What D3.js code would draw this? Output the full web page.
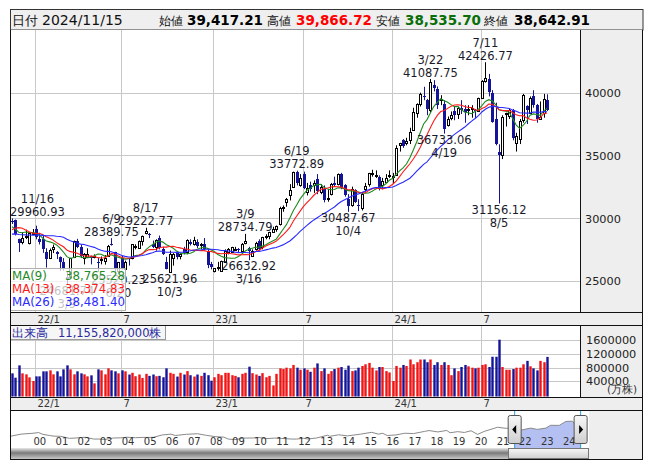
<!DOCTYPE html>
<html><head><meta charset="utf-8">
<script src="https://cdn.jsdelivr.net/npm/d3@7"></script>
<style>body{margin:0;background:#fff;} text{font-family:"DejaVu Sans",Verdana,sans-serif;}</style>
</head><body><svg id="c" width="653" height="470" xmlns="http://www.w3.org/2000/svg"></svg>
<script>
// ---------- DATA ----------
const dates = ["2021/11/19","2021/11/26","2021/12/03","2021/12/10","2021/12/17","2021/12/24","2021/12/30",
"2022/01/07","2022/01/14","2022/01/21","2022/01/28","2022/02/04","2022/02/10","2022/02/18","2022/02/25","2022/03/04","2022/03/11","2022/03/18","2022/03/25","2022/04/01","2022/04/08","2022/04/15","2022/04/22","2022/04/28","2022/05/06","2022/05/13","2022/05/20","2022/05/27","2022/06/03","2022/06/10","2022/06/17","2022/06/24","2022/07/01","2022/07/08","2022/07/15","2022/07/22","2022/07/29","2022/08/05","2022/08/12","2022/08/19","2022/08/26","2022/09/02","2022/09/09","2022/09/16","2022/09/22","2022/09/30","2022/10/07","2022/10/14","2022/10/21","2022/10/28","2022/11/04","2022/11/11","2022/11/18","2022/11/25","2022/12/02","2022/12/09","2022/12/16","2022/12/23","2022/12/30",
"2023/01/06","2023/01/13","2023/01/20","2023/01/27","2023/02/03","2023/02/10","2023/02/17","2023/02/24","2023/03/03","2023/03/10","2023/03/17","2023/03/24","2023/03/31","2023/04/07","2023/04/14","2023/04/21","2023/04/28","2023/05/02","2023/05/12","2023/05/19","2023/05/26","2023/06/02","2023/06/09","2023/06/16","2023/06/23","2023/06/30","2023/07/07","2023/07/14","2023/07/21","2023/07/28","2023/08/04","2023/08/10","2023/08/18","2023/08/25","2023/09/01","2023/09/08","2023/09/15","2023/09/22","2023/09/29","2023/10/06","2023/10/13","2023/10/20","2023/10/27","2023/11/02","2023/11/10","2023/11/17","2023/11/24","2023/12/01","2023/12/08","2023/12/15","2023/12/22","2023/12/29",
"2024/01/05","2024/01/12","2024/01/19","2024/01/26","2024/02/02","2024/02/09","2024/02/16","2024/02/22","2024/03/01","2024/03/08","2024/03/15","2024/03/22","2024/03/29","2024/04/05","2024/04/12","2024/04/19","2024/04/26","2024/05/02","2024/05/10","2024/05/17","2024/05/24","2024/05/31","2024/06/07","2024/06/14","2024/06/21","2024/06/28","2024/07/05","2024/07/12","2024/07/19","2024/07/26","2024/08/02","2024/08/09","2024/08/16","2024/08/23","2024/08/30","2024/09/06","2024/09/13","2024/09/20","2024/09/27","2024/10/04","2024/10/11","2024/10/18","2024/10/25","2024/11/01","2024/11/08","2024/11/15"];

const opens = [29800,29870,28300,28100,28500,28000,28700,
29098,28300,28300,27300,26800,27500,27300,26900,26500,25300,25300,26900,28200,27700,26800,26900,27000,26900,26500,26700,26600,27000,27900,27300,25800,26800,25900,26800,26800,27800,27600,28200,28800,28700,27900,27700,28400,27500,26500,25700,26800,27200,27000,27500,27300,28100,27900,28100,27900,27900,27300,26300,
25800,26000,25800,26500,27300,27300,27500,27500,27400,28000,27600,27000,27500,28200,27700,28500,28600,28900,29100,29500,30800,31300,31800,32500,33700,32600,33500,32100,32600,32600,33100,32100,32300,31500,31900,32800,32700,33500,32600,31500,31000,32200,31000,30800,32300,32700,33500,33400,33300,32600,32900,33400,
33300,33400,35800,36200,36000,36200,37000,38400,39100,39700,39400,38600,40600,40300,39400,39100,37400,38000,38500,38300,38800,38700,38600,38800,38600,38500,39600,40900,41100,40000,37900,35250,35000,38300,38100,38600,36000,36300,37800,38900,38400,39700,39000,37900,38400,39417.21];
const highs = [29960.93,29880,28350,28860,29070,28870,29121,
29388,28813,28631,27590,27564,27880,27360,26930,26800,25690,26830,28200,28338,27870,27200,27580,27000,27100,26800,26930,27050,27850,28389.75,27300,26500,27000,26600,26800,27900,27900,28200,28600,29222.77,28800,28200,28300,28600,27700,26900,27400,27200,27300,27200,27700,28300,28300,28500,28300,28000,28400,27500,26500,
26000,26500,26600,27500,27600,27700,27700,27600,28000,28734.79,27700,27500,28100,28300,28500,28700,28900,29300,29400,30900,31000,31600,32700,33700,33772.89,33500,33700,32800,32900,33000,33500,32700,32600,32300,32800,33300,33550,33600,32700,31900,32500,32300,31500,32000,32800,33600,33850,33800,33400,33200,33500,33800,
33600,35800,36000,36300,36400,37200,38800,39150,40000,40472,39500,41087.75,41000,40500,39800,39400,38100,38500,38900,38900,39400,39000,39000,39000,38700,39600,41000,42426.77,41500,40200,39200,35880,38200,38400,38700,38700,36800,37900,39900,39000,39700,40200,39100,39300,39900,39866.72];
const lows = [29520,28605,27293,27900,28320,27893,28630,
28300,27889,27217,26044,26720,27200,26724,25775,25800,24681.74,25250,26800,27600,26800,26300,26800,26300,26780,25688,26300,26280,26900,27800,25700,25520.23,25900,25660,26200,26700,27500,27600,27800,28700,28400,27600,27400,27500,27050,25900,25621.96,26200,26700,26700,27100,27100,27800,27800,27600,27500,27400,26000,25900,
25661,25800,25800,26500,27100,27200,27400,27200,27300,27900,26632.92,26900,27400,27400,27500,28300,28300,28900,28900,29400,30500,30900,31400,32400,32600,32500,32300,31800,32100,32000,31900,31900,31250,31300,31800,32500,32600,32300,31700,30487.67,30900,31200,30551,30600,32100,32500,33300,33200,32200,32300,32800,33200,
32800,33400,35300,35600,35800,35900,37000,38000,38900,39400,38200,38400,40100,38700,39000,36733.06,37300,37800,37800,37900,38300,37600,38200,38000,37950,38500,39500,40800,39700,37600,35800,31156.12,34700,37300,37900,36200,35300,35900,37600,37500,38300,38800,37600,37900,38000,38535.70];
const closes = [29745.87,28751.62,28029.57,28437.77,28545.68,28782.59,28791.71,
28478.56,28124.28,27522.26,26717.34,27439.99,27696.08,27122.07,26476.50,25985.47,25162.78,26827.43,28149.84,27665.98,26985.80,27093.19,27105.26,26847.90,27003.56,26427.65,26739.03,26781.68,27761.57,27824.29,25963.00,26491.97,25935.62,26517.19,26788.47,27914.66,27801.64,28175.87,28546.98,28930.33,28641.38,27650.84,28214.75,27567.65,27153.83,25937.21,27116.11,27090.76,26890.58,27105.20,27199.74,28263.57,27899.77,28283.03,27777.90,27901.01,27527.12,26235.25,26094.50,
25973.85,26119.52,26553.53,27382.56,27509.46,27670.98,27513.13,27453.48,27927.47,28143.97,27333.79,27385.25,28041.48,27518.31,28493.47,28564.37,28856.44,29157.95,29388.30,30808.35,30916.31,31524.22,32265.17,33706.08,32781.54,33189.04,32388.42,32391.26,32304.25,32759.23,32192.75,32473.65,31450.76,31624.28,32710.62,32606.84,33533.09,32402.41,31857.62,30994.67,32315.99,31259.36,30991.69,31949.89,32568.11,33585.20,33625.53,33431.51,32307.86,32970.55,33169.05,33464.17,
33377.42,35577.11,35963.27,35751.07,36158.02,36897.42,38487.24,39098.68,39910.82,39688.94,38707.64,40888.43,40369.44,38992.08,39523.55,37068.35,37934.76,38236.07,38229.11,38787.38,38646.11,38487.90,38683.93,38814.56,38596.47,39583.08,40912.37,41190.68,40063.79,37667.41,35909.70,35025.00,38062.67,38364.27,38647.75,36391.47,36581.76,37723.91,39829.56,38635.62,39605.80,38981.75,37913.92,38053.67,39500.37,38642.91];
// weekly closes before the first visible week (for moving averages)
const priorCloses = [28317,29149,28941,28948,28964,29066,28783,27940,28003,27548,27283,27820,27977,27013,27641,29128,30382,30500,30249,28771,28049,29068,28804,28892,29611];
// volume in 万株
const volumes = [634000,507000,868000,634000,605000,517000,410000,
546000,546000,693000,693000,722000,605000,693000,546000,751000,868000,751000,605000,693000,634000,605000,546000,576000,341000,751000,722000,605000,780000,722000,693000,634000,722000,693000,600000,650000,550000,600000,500000,620000,560000,600000,550000,560000,520000,780000,650000,620000,540000,650000,600000,700000,580000,540000,600000,560000,650000,580000,420000,
520000,620000,580000,650000,650000,580000,560000,520000,620000,650000,830000,640000,600000,560000,640000,520000,560000,280000,620000,780000,760000,800000,780000,880000,800000,740000,780000,740000,680000,800000,925000,700000,780000,620000,700000,760000,800000,820000,740000,860000,700000,720000,800000,850000,900000,940000,800000,720000,820000,820000,700000,660000,
410000,850000,800000,880000,850000,1040000,900000,960000,1040000,1040000,960000,1040000,880000,960000,880000,960000,880000,580000,780000,700000,820000,880000,840000,800000,780000,800000,880000,900000,820000,1120000,1120000,1620000,820000,740000,740000,760000,800000,800000,900000,1000000,840000,780000,720000,1000000,960000,1115582];

const tickDates = ["2022/01/07","2022/07/01","2023/01/06","2023/07/07","2024/01/05","2024/07/05"];
const tickLabels = ["22/1","7","23/1","7","24/1","7"];
const priceTicks = [25000,30000,35000,40000];
const volTicks = [400000,800000,1200000,1600000];

const annWeeks  = ["2021/11/19","2022/06/10","2022/08/19","2023/03/10","2023/06/23","2024/03/22","2024/07/12",
                   "2022/03/11","2022/06/24","2022/10/07","2023/03/17","2023/10/06","2024/04/19","2024/08/09"];
const annDates  = ["11/16","6/9","8/17","3/9","6/19","3/22","7/11","3/9","6/20","10/3","3/16","10/4","4/19","8/5"];
const annValues = [29960.93,28389.75,29222.77,28734.79,33772.89,41087.75,42426.77,24681.74,25520.23,25621.96,26632.92,30487.67,36733.06,31156.12];
const annKinds  = ["H","H","H","H","H","H","H","L","L","L","L","L","L","L"];

const maPeriods = [9,13,26];
const maNames = ["MA(9)","MA(13)","MA(26)"];
const maValueLabels = ["38,765.28","38,374.83","38,481.40"];
const maColors = ["#1f8a1f","#ff1a1a","#2a2aff"];

const headerDate = "2024/11/15";
const headerNames = ["始値","高値","安値","終値"];
const headerValues = ["39,417.21","39,866.72","38,535.70","38,642.91"];
const headerColors = ["#000","#ff0000","#0a6e0a","#000"];
const volumeLabel = "11,155,820,000株";

const navYears = ["00","01","02","03","04","05","06","07","08","09","10","11","12","13","14","15","16","17","18","19","20","21","22","23","24"];
const navT = [1999.0,1999.5,2000.0,2000.3,2000.5,2000.8,2001.0,2001.3,2001.7,2002.0,2002.4,2002.8,2003.0,2003.3,2003.7,2004.0,2004.3,2004.7,2005.0,2005.5,2005.9,2006.3,2006.5,2007.0,2007.5,2007.9,2008.3,2008.7,2008.9,2009.2,2009.6,2010.0,2010.3,2010.6,2011.0,2011.3,2011.8,2012.0,2012.3,2012.5,2012.9,2013.4,2013.5,2013.9,2014.3,2014.9,2015.4,2015.7,2015.9,2016.1,2016.5,2016.9,2017.3,2017.8,2018.0,2018.4,2018.8,2018.95,2019.3,2019.6,2019.9,2020.2,2020.5,2020.9,2021.1,2021.5,2021.88,2022.2,2022.6,2022.9,2023.3,2023.5,2023.9,2024.2,2024.5,2024.6,2024.87];
const navV = [13400,17500,18900,20300,17000,15000,13800,13500,9800,10500,11800,8500,8600,7800,10500,10700,11800,11000,11500,11600,16000,17500,15000,17200,18200,15300,13000,12000,8500,7500,10300,10500,11300,9300,10300,9700,8500,8500,10000,8700,10400,15600,13500,16300,14300,17500,20800,17500,19000,15000,16000,19100,18500,22500,24000,21500,24200,20000,22000,20500,23600,17000,22500,27400,30000,28000,29745,25000,28500,26100,28500,33500,33400,40500,41000,36000,38642];
const navSel = [2021.88, 2024.87];

// ---------- LAYOUT ----------
const svg = d3.select("#c");
const L = 10, R = 580, T = 30, B = 312, FR = 643;
const VT = 325, VB = 397;
const x = d3.scalePoint().domain(dates).range([12, 12 + 156 * 3.43]);
const y = d3.scaleLinear().domain([22500, 45000]).range([312, 30]);
const vy = d3.scaleLinear().domain([0, 2050000]).range([395, 325]);
const CJK = '"Noto Sans CJK JP","Noto Sans",sans-serif';

svg.append("rect").attr("width",653).attr("height",470).attr("fill","#fff");
const defs = svg.append("defs");
defs.append("clipPath").attr("id","cp").append("rect").attr("x",L).attr("y",T).attr("width",R-L).attr("height",B-T);
defs.append("clipPath").attr("id","cpv").append("rect").attr("x",L).attr("y",VT).attr("width",R-L).attr("height",VB-VT);

// header
svg.append("rect").attr("x",10.5).attr("y",9.5).attr("width",FR-10.5).attr("height",20.5).attr("fill","#efefef").attr("stroke","#333");
svg.append("text").attr("x",12).attr("y",25).attr("font-family",CJK).attr("font-size",13).attr("fill","#111").text("日付");
svg.append("text").attr("x",42).attr("y",25).attr("font-size",14).attr("fill","#111").text(headerDate);
const hnX = [159,267,376,484], hvX = [187,296,405,514];
headerNames.forEach((n,i)=>{
  svg.append("text").attr("x",hnX[i]).attr("y",25).attr("font-family",CJK).attr("font-size",11.5).attr("fill","#111").text(n);
  svg.append("text").attr("x",hvX[i]).attr("y",25).attr("font-size",13.5).attr("font-weight","bold").attr("fill",headerColors[i]).text(headerValues[i]);
});

// panels backgrounds
svg.append("rect").attr("x",L).attr("y",T).attr("width",R-L).attr("height",B-T).attr("fill","#fff");
svg.append("rect").attr("x",R).attr("y",T).attr("width",FR-R).attr("height",B-T).attr("fill","#eeeeee");
svg.append("rect").attr("x",L).attr("y",B).attr("width",FR-L).attr("height",VT-B).attr("fill","#eeeeee");
svg.append("rect").attr("x",L).attr("y",VT).attr("width",R-L).attr("height",VB-VT).attr("fill","#fff");
svg.append("rect").attr("x",R).attr("y",VT).attr("width",FR-R).attr("height",VB-VT).attr("fill","#eeeeee");
svg.append("rect").attr("x",L).attr("y",VB).attr("width",FR-L).attr("height",410-VB).attr("fill","#eeeeee");

const gx = d => Math.round(x(d)) - 0.5;
// gridlines main
const grid = svg.append("g").attr("stroke","#c8c8c8").attr("stroke-width",1);
priceTicks.forEach(v=>grid.append("line").attr("x1",L).attr("x2",R).attr("y1",Math.round(y(v))+0.5).attr("y2",Math.round(y(v))+0.5));
tickDates.forEach(d=>{
  grid.append("line").attr("x1",gx(d)).attr("x2",gx(d)).attr("y1",T).attr("y2",B);
  grid.append("line").attr("x1",gx(d)).attr("x2",gx(d)).attr("y1",VT).attr("y2",VB);
});
volTicks.forEach(v=>grid.append("line").attr("x1",L).attr("x2",R).attr("y1",Math.round(vy(v))+0.5).attr("y2",Math.round(vy(v))+0.5));

// axis labels
priceTicks.forEach(v=>svg.append("text").attr("x",585).attr("y",y(v)+4.5).attr("font-size",11.3).attr("fill","#222").text(v));
volTicks.forEach(v=>svg.append("text").attr("x",586).attr("y",vy(v)+4).attr("font-size",11.3).attr("fill","#222").text(v));
svg.append("text").attr("x",607).attr("y",393).attr("font-family",CJK).attr("font-size",10.5).attr("fill","#333").text("(万株)");
tickDates.forEach((d,i)=>{
  svg.append("text").attr("x",gx(d)+2).attr("y",323).attr("font-size",10).attr("fill","#333").text(tickLabels[i]);
  svg.append("text").attr("x",gx(d)+2).attr("y",407).attr("font-size",10).attr("fill","#333").text(tickLabels[i]);
});

// candles
const UP = "#000", DOWN = "#14149a", RED = "#f01414";
const cg = svg.append("g").attr("clip-path","url(#cp)");
dates.forEach((d,i)=>{
  const c = Math.round(x(d));
  const o = opens[i], cl = closes[i], up = cl >= o;
  const col = up ? UP : DOWN;
  cg.append("line").attr("x1",c+0.5).attr("x2",c+0.5).attr("y1",y(highs[i])).attr("y2",y(lows[i])).attr("stroke",col).attr("stroke-width",1);
  const yt = Math.round(y(Math.max(o,cl))), yb = Math.round(y(Math.min(o,cl)));
  if (up) {
    cg.append("rect").attr("x",c-0.5).attr("y",yt+0.5).attr("width",2).attr("height",Math.max(1,yb-yt)).attr("fill","#fff").attr("stroke",UP).attr("stroke-width",1);
  } else {
    cg.append("rect").attr("x",c-1).attr("y",yt).attr("width",3).attr("height",Math.max(1,yb-yt)).attr("fill",DOWN);
  }
});

// moving averages
const allCloses = priorCloses.concat(closes);
maPeriods.forEach((p,k)=>{
  const vals = dates.map((d,i)=>{
    const j = i + priorCloses.length;
    return d3.mean(allCloses.slice(Math.max(0,j-p+1), j+1));
  });
  cg.append("path").attr("d", d3.line().x((v,i)=>x(dates[i])).y(v=>y(v))(vals))
    .attr("fill","none").attr("stroke",maColors[k]).attr("stroke-width",1.1);
});

// annotations
const ag = svg.append("g").attr("clip-path","url(#cp)").attr("font-size",11.5).attr("fill","#1a1a2a");
annWeeks.forEach((w,i)=>{
  const cx = x(w), yy = y(annValues[i]);
  const vt = ag.append("text").attr("text-anchor","middle").text(annValues[i].toFixed(2));
  const dt = ag.append("text").attr("text-anchor","middle").text(annDates[i]);
  const wv = vt.node().getComputedTextLength();
  const px = Math.max(L + wv/2, Math.min(R - wv/2, cx));
  if (annKinds[i] === "H") { vt.attr("x",px).attr("y",yy-2.5); dt.attr("x",px).attr("y",yy-15.5); }
  else { vt.attr("x",px).attr("y",yy+10); dt.attr("x",px).attr("y",yy+23); }
});

// MA legend
svg.append("rect").attr("x",10.5).attr("y",268.5).attr("width",115).attr("height",42).attr("fill","#fff").attr("fill-opacity",0.72).attr("stroke","#b0b0b0");
maNames.forEach((n,k)=>{
  svg.append("text").attr("x",12).attr("y",280+k*13.2).attr("font-size",11.8).attr("fill",maColors[k]).text(n);
  svg.append("text").attr("x",125).attr("y",280+k*13.2).attr("text-anchor","end").attr("font-size",11.8).attr("fill",maColors[k]).text(maValueLabels[k]);
});

// volume bars
const vg = svg.append("g").attr("clip-path","url(#cpv)");
dates.forEach((d,i)=>{
  const c = Math.round(x(d)) + 0.5;
  const up = closes[i] >= opens[i];
  vg.append("rect").attr("x",c-1.2).attr("y",vy(volumes[i])).attr("width",2.4).attr("height",396.5-vy(volumes[i])).attr("fill", up ? RED : DOWN);
});
// volume legend
svg.append("rect").attr("x",10.5).attr("y",325.5).attr("width",155).attr("height",14).attr("fill","#f4f4f4").attr("fill-opacity",0.85).attr("stroke","#999");
svg.append("text").attr("x",12).attr("y",337).attr("font-family",CJK).attr("font-size",11.5).attr("fill","#2a2aa0").text("出来高");
svg.append("text").attr("x",58).attr("y",337).attr("font-size",11.5).attr("fill","#2a2aa0").text(volumeLabel);

// navigator
const NT = 410, NB = 459;
const nx = d3.scaleLinear().domain([2000, 2025]).range([32, 32 + 25*22.06]);
const ny = d3.scaleLinear().domain([5000, 45000]).range([441, 419]);
svg.append("rect").attr("x",L).attr("y",NT).attr("width",FR-L).attr("height",NB-NT).attr("fill","#fff");
svg.append("rect").attr("x",589).attr("y",NT).attr("width",FR-589).attr("height",NB-NT).attr("fill","#eeeeee");
const selPts = navT.map((t,i)=>[t,navV[i]]).filter(p=>p[0]>=navSel[0]-0.001);
svg.append("path").attr("d", d3.area().x(p=>nx(p[0])).y0(448).y1(p=>ny(p[1]))(selPts)).attr("fill","#b4c0f2");
svg.append("path").attr("d", d3.line().x((t)=>nx(t)).y((t,i)=>ny(navV[i]))(navT)).attr("fill","none").attr("stroke","#8a8a8a").attr("stroke-width",1);
navYears.forEach((s,i)=>svg.append("text").attr("x",nx(2000+i)+1.5).attr("y",445).attr("font-size",10).attr("fill","#333").text(s));
// scrollbar
const gr = defs.append("linearGradient").attr("id","gTrack").attr("x1",0).attr("x2",0).attr("y1",0).attr("y2",1);
gr.append("stop").attr("offset","0%").attr("stop-color","#e8e8e8");
gr.append("stop").attr("offset","45%").attr("stop-color","#7a7a7a");
gr.append("stop").attr("offset","100%").attr("stop-color","#c8c8c8");
const gt = defs.append("linearGradient").attr("id","gThumb").attr("x1",0).attr("x2",0).attr("y1",0).attr("y2",1);
gt.append("stop").attr("offset","0%").attr("stop-color","#f8f8f8");
gt.append("stop").attr("offset","100%").attr("stop-color","#cfcfcf");
svg.append("rect").attr("x",L).attr("y",448).attr("width",508-L).attr("height",11).attr("fill","url(#gTrack)");
svg.append("rect").attr("x",508.5).attr("y",448.5).attr("width",80).attr("height",10).attr("fill","url(#gThumb)").attr("stroke","#777");
// selection lines & handles
[nx(navSel[0]), nx(navSel[1])].forEach((hx,k)=>{
  svg.append("line").attr("x1",hx).attr("x2",hx).attr("y1",411).attr("y2",448).attr("stroke","#2d9cd6").attr("stroke-width",1);
  svg.append("rect").attr("x",hx-6.5).attr("y",415.5).attr("width",13).attr("height",28).attr("rx",2).attr("fill","url(#gThumb)").attr("stroke","#555");
  const tri = k===0 ? [[hx-2.5,429.5],[hx+1.5,425],[hx+1.5,434]] : [[hx+2.5,429.5],[hx-1.5,425],[hx-1.5,434]];
  svg.append("path").attr("d","M"+tri.map(p=>p.join(",")).join("L")+"Z").attr("fill","#000");
});

// frame lines
const fl = svg.append("g").attr("stroke","#111").attr("stroke-width",1);
fl.append("line").attr("x1",10.5).attr("x2",10.5).attr("y1",30).attr("y2",NB+0.5);
fl.append("line").attr("x1",FR-0.5).attr("x2",FR-0.5).attr("y1",30).attr("y2",NB+0.5);
fl.append("line").attr("x1",R+0.5).attr("x2",R+0.5).attr("y1",T).attr("y2",B);
fl.append("line").attr("x1",R+0.5).attr("x2",R+0.5).attr("y1",VT).attr("y2",VB);
[B+0.5, VT+0.5, VB+0.5, NT+0.5, NB+0.5].forEach(yy=>fl.append("line").attr("x1",10).attr("x2",FR).attr("y1",yy).attr("y2",yy));
</script></body></html>
